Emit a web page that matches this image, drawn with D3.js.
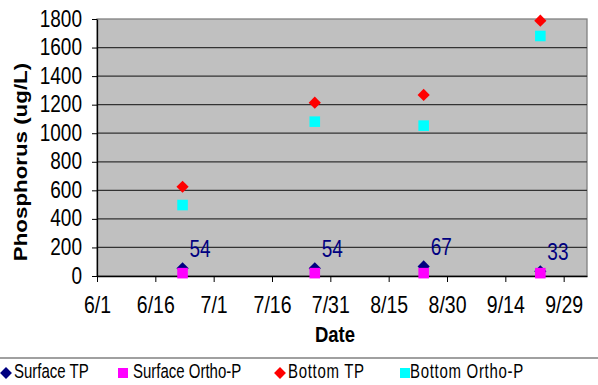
<!DOCTYPE html>
<html>
<head>
<meta charset="utf-8">
<script src="https://cdn.jsdelivr.net/npm/d3@7"></script>
<style>
  body { margin: 0; background: #fff; }
  svg { display: block; font-family: "Liberation Sans", Arial, sans-serif; }
</style>
</head>
<body>
<svg id="chart" width="598" height="385"></svg>
<script>
// sample dates and values
var sampleDates = ["2008-06-23", "2008-07-27", "2008-08-24", "2008-09-23"];
var surfaceTP = [54, 54, 67, 33];
var surfaceOrtho = [20, 20, 20, 20];
var bottomTP = [625, 1214, 1268, 1788];
var bottomOrtho = [497, 1081, 1053, 1681];
var tickDates = ["6/1", "6/16", "7/1", "7/16", "7/31", "8/15", "8/30", "9/14", "9/29"];
var yTicks = [0, 200, 400, 600, 800, 1000, 1200, 1400, 1600, 1800];

var parse = d3.timeParse("%Y-%m-%d");
var parseTick = d3.timeParse("%Y/%m/%d");
var fmt = d3.timeFormat("%-m/%-d");

var svg = d3.select("#chart");
var margin = {top: 19, right: 11, bottom: 109, left: 97};
var width = 598, height = 385;
var sy = 1.24; // the original text is a little taller than it is wide

var x = d3.scaleTime()
  .domain([parse("2008-06-01"), parse("2008-10-05")])
  .range([margin.left, width - margin.right]);
var y = d3.scaleLinear()
  .domain([0, 1800])
  .range([height - margin.bottom, margin.top]);

// plot area
svg.append("rect")
  .attr("x", x.range()[0]).attr("y", y(1800))
  .attr("width", x.range()[1] - x.range()[0])
  .attr("height", y(0) - y(1800))
  .attr("fill", "#c0c0c0")
  .attr("stroke", "#808080")
  .attr("stroke-width", 1.3);

// gridlines
svg.append("g")
  .selectAll("line")
  .data(yTicks.filter(d => d > 0 && d < 1800))
  .enter().append("line")
    .attr("x1", x.range()[0]).attr("x2", x.range()[1])
    .attr("y1", d => y(d)).attr("y2", d => y(d))
    .attr("stroke", "#333")
    .attr("stroke-width", 1.2);

// axes
var tickVals = tickDates.map(t => parseTick("2008/" + t));
var gx = svg.append("g")
  .attr("transform", `translate(0,${y(0)})`)
  .call(d3.axisBottom(x).tickValues(tickVals).tickFormat(fmt).tickSizeInner(6).tickSizeOuter(0).tickPadding(0));
gx.select(".domain").attr("stroke", "#000").attr("stroke-width", 1.3);
gx.selectAll("text")
  .attr("font-size", 19.5).attr("fill", "#000")
  .attr("y", 0).attr("dy", null)
  .attr("transform", `translate(0,37) scale(1,${sy})`);

var gy = svg.append("g")
  .attr("transform", `translate(${x.range()[0]},0)`)
  .call(d3.axisLeft(y).tickValues(yTicks).tickFormat(d3.format("d")).tickSizeInner(5).tickSizeOuter(0).tickPadding(0));
gy.select(".domain").attr("stroke", "#000").attr("stroke-width", 1.3);
gy.selectAll("text")
  .attr("font-size", 19).attr("fill", "#000")
  .attr("x", 0).attr("dy", null)
  .attr("transform", `translate(-15,7) scale(1,${sy})`);

// axis titles
svg.append("g")
  .attr("transform", `translate(335,342) scale(1,${sy})`)
  .append("text")
    .attr("text-anchor", "middle")
    .attr("font-weight", "bold")
    .attr("font-size", 18.5)
    .text("Date");

svg.append("g")
  .attr("transform", `translate(27,162) rotate(-90) scale(${sy},1)`)
  .append("text")
    .attr("text-anchor", "middle")
    .attr("font-weight", "bold")
    .attr("font-size", 18)
    .text("Phosphorus (ug/L)");

// markers
var diamond = d3.symbol().type(d3.symbolDiamond2).size(95);
var square = d3.symbol().type(d3.symbolSquare).size(112);

var series = [
  {name: "Surface TP", values: surfaceTP, color: "#000080", shape: diamond},
  {name: "Surface Ortho-P", values: surfaceOrtho, color: "#ff00ff", shape: square},
  {name: "Bottom TP", values: bottomTP, color: "#ff0000", shape: diamond},
  {name: "Bottom Ortho-P", values: bottomOrtho, color: "#00ffff", shape: square}
];

series.forEach(function(s) {
  svg.append("g")
    .selectAll("path")
    .data(s.values)
    .enter().append("path")
      .attr("d", s.shape)
      .attr("fill", s.color)
      .attr("transform", (d, i) => `translate(${x(parse(sampleDates[i]))},${y(d)})`);
});

// value labels for surface TP
svg.append("g")
  .selectAll("g")
  .data(surfaceTP)
  .enter().append("g")
    .attr("transform", (d, i) => `translate(${x(parse(sampleDates[i])) + 7},${y(d) - 11}) scale(1,${sy})`)
  .append("text")
    .attr("font-size", 19)
    .attr("fill", "#000080")
    .text(d => d);

// legend
svg.append("line")
  .attr("x1", 0).attr("x2", width)
  .attr("y1", 358).attr("y2", 358)
  .attr("stroke", "#808080")
  .attr("stroke-width", 1.3);

var legendX = [6, 123, 280, 405];
var legendTextX = [14, 133, 288, 410];
var leg = svg.append("g")
  .selectAll("g")
  .data(series)
  .enter().append("g");
leg.append("path")
  .attr("d", (d, i) => d.shape === diamond ? d3.symbol().type(d3.symbolDiamond2).size(90)() : d3.symbol().type(d3.symbolSquare).size(100)())
  .attr("fill", d => d.color)
  .attr("transform", (d, i) => `translate(${legendX[i]},373)`);
leg.append("g")
  .attr("transform", (d, i) => `translate(${legendTextX[i]},378) scale(1,1.3)`)
  .append("text")
    .attr("font-size", 15)
    .attr("letter-spacing", (d, i) => i >= 2 ? 0.7 : 0)
    .text(d => d.name);
</script>
</body>
</html>
